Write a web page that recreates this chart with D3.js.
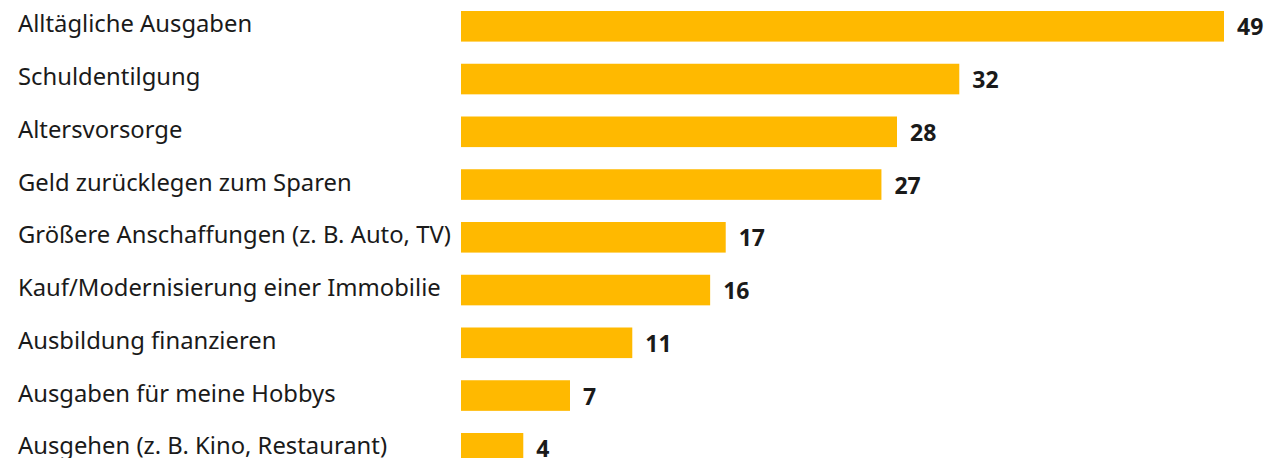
<!DOCTYPE html>
<html>
<head>
<meta charset="utf-8">
<script src="https://cdn.jsdelivr.net/npm/d3@7"></script>
<style>
  body { margin: 0; background: #fff; }
  text { font-family: "Noto Sans", sans-serif; }
</style>
</head>
<body>
<div id="wrapper"></div>
<script>
// data
const categories = [
  "Alltägliche Ausgaben",
  "Schuldentilgung",
  "Altersvorsorge",
  "Geld zurücklegen zum Sparen",
  "Größere Anschaffungen (z. B. Auto, TV)",
  "Kauf/Modernisierung einer Immobilie",
  "Ausbildung finanzieren",
  "Ausgaben für meine Hobbys",
  "Ausgehen (z. B. Kino, Restaurant)"
]
const values = [49, 32, 28, 27, 17, 16, 11, 7, 4]

function drawBars() {
  const dimensions = {
    width: 1266,
    height: 458,
    labelX: 18,
    barX: 461,
    barMaxX: 1224,
    top: 11,
    step: 52.75,
    padding: 0.42,
  }
  const n = categories.length

  const rows = categories.map((c, i) => ({ label: c, value: values[i] }))

  const svg = d3.select("#wrapper")
    .append("svg")
    .attr("width", dimensions.width)
    .attr("height", dimensions.height)

  const xScale = d3.scaleLinear()
    .domain([0, 49])
    .range([dimensions.barX, dimensions.barMaxX])

  const yScale = d3.scaleBand()
    .domain(categories)
    .range([dimensions.top, dimensions.top + dimensions.step * (n - dimensions.padding)])
    .paddingInner(dimensions.padding)
    .paddingOuter(0)

  // bars
  svg.append("g")
    .selectAll("rect")
    .data(rows)
    .join("rect")
      .attr("x", xScale(0))
      .attr("y", d => yScale(d.label))
      .attr("width", d => xScale(d.value) - xScale(0))
      .attr("height", yScale.bandwidth())
      .attr("fill", "#ffb900")

  // category labels
  svg.append("g")
    .selectAll("text")
    .data(rows)
    .join("text")
      .attr("x", dimensions.labelX)
      .attr("y", d => yScale(d.label) + yScale.bandwidth() / 2 - 3)
      .attr("dominant-baseline", "central")
      .attr("font-size", 23.8)
      .attr("fill", "#1a1a1a")
      .text(d => d.label)

  // value labels
  svg.append("g")
    .selectAll("text")
    .data(rows)
    .join("text")
      .attr("x", d => xScale(d.value) + 13)
      .attr("y", d => yScale(d.label) + yScale.bandwidth() / 2)
      .attr("dominant-baseline", "central")
      .attr("font-size", 23)
      .attr("font-weight", "bold")
      .attr("fill", "#1a1a1a")
      .text(d => d.value)
}
drawBars()
</script>
</body>
</html>
